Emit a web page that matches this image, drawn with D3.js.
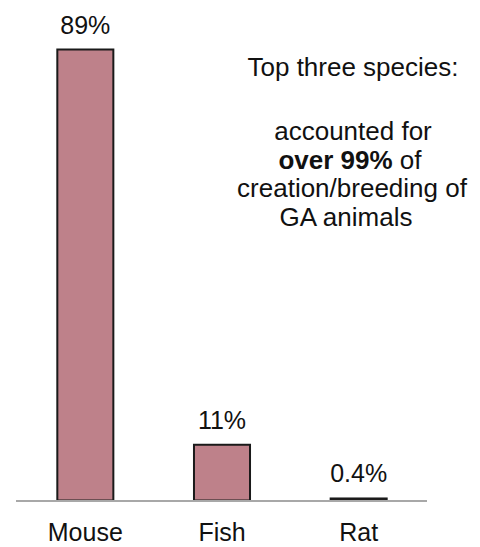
<!DOCTYPE html>
<html lang="en">
<head>
<meta charset="utf-8">
<title>GA animals by species</title>
<script src="https://cdn.jsdelivr.net/npm/d3@7"></script>
<style>
  body { margin: 0; background: #fff; }
  text { font-family: "Liberation Sans", Arial, sans-serif; fill: #111; }
</style>
</head>
<body>
<script>
// data
var species = ["Mouse", "Fish", "Rat"];
var shares = [89, 11, 0.4];
var shareLabels = ["89%", "11%", "0.4%"];

var width = 480, height = 547;
var baseY = 500.5;

var svg = d3.select("body").append("svg")
  .attr("width", width)
  .attr("height", height);

var x = d3.scaleBand()
  .domain(species)
  .range([17, 427])
  .paddingInner(0.59)
  .paddingOuter(0.295);

var y = d3.scaleLinear()
  .domain([0, 89])
  .range([baseY, 49.5]);

// bars
svg.selectAll("rect.bar")
  .data(species)
  .enter()
  .append("rect")
  .attr("class", "bar")
  .attr("x", d => x(d))
  .attr("y", (d, i) => y(shares[i]))
  .attr("width", x.bandwidth())
  .attr("height", (d, i) => baseY - y(shares[i]))
  .style("fill", "#be818a")
  .style("stroke", "#1a1a1a")
  .style("stroke-width", 2);

// baseline
svg.append("line")
  .attr("x1", 16).attr("x2", 427)
  .attr("y1", baseY + 0.5).attr("y2", baseY + 0.5)
  .style("stroke", "#a8a8a8")
  .style("stroke-width", 2);

// value labels
svg.selectAll("text.val")
  .data(species)
  .enter()
  .append("text")
  .attr("class", "val")
  .attr("x", d => x(d) + x.bandwidth() / 2)
  .attr("y", (d, i) => y(shares[i]) - 16)
  .attr("text-anchor", "middle")
  .style("font-size", "25px")
  .text((d, i) => shareLabels[i]);

// category labels
svg.selectAll("text.cat")
  .data(species)
  .enter()
  .append("text")
  .attr("class", "cat")
  .attr("x", d => x(d) + x.bandwidth() / 2)
  .attr("y", 541)
  .attr("text-anchor", "middle")
  .style("font-size", "25px")
  .text(d => d);

// annotation
var note = svg.append("text")
  .attr("text-anchor", "middle")
  .style("font-size", "26px");

note.append("tspan").attr("x", 353).attr("y", 76).text("Top three species:");
note.append("tspan").attr("x", 353).attr("y", 140).text("accounted for");
var l3 = note.append("tspan").attr("x", 350).attr("y", 168.5);
l3.append("tspan").style("font-weight", "bold").text("over 99%");
l3.append("tspan").text(" of");
note.append("tspan").attr("x", 352).attr("y", 197).text("creation/breeding of");
note.append("tspan").attr("x", 346).attr("y", 225.5).text("GA animals");
</script>
</body>
</html>
